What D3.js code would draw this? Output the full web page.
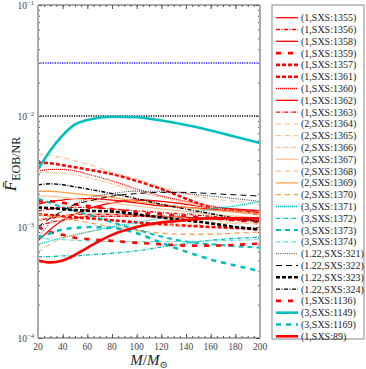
<!DOCTYPE html>
<html>
<head>
<meta charset="utf-8">
<script src="https://cdn.jsdelivr.net/npm/d3@7"></script>
<style>
body { margin: 0; background: #fff; }
text { font-family: "Liberation Serif", "DejaVu Serif", serif; }
</style>
</head>
<body>
<div id="chart"></div>
<script>
// total masses M/Msun where the curves were read
var masses = [20, 30, 40, 50, 60, 80, 100, 120, 140, 160, 180, 200];

// mismatch values, in units of 1e-3
var s1355 = [1.6, 1.7, 1.75, 1.8, 1.8, 1.75, 1.65, 1.55, 1.5, 1.45, 1.4, 1.35];
var s1356 = [1.4, 1.45, 1.5, 1.5, 1.5, 1.45, 1.4, 1.35, 1.3, 1.25, 1.2, 1.2];
var s1358 = [0.75, 0.95, 1.15, 1.3, 1.45, 1.65, 1.75, 1.7, 1.6, 1.5, 1.45, 1.4];
var s1359 = [1.7, 1.7, 1.65, 1.6, 1.55, 1.45, 1.35, 1.3, 1.25, 1.2, 1.15, 1.1];
var s1357 = [3.8, 3.75, 3.6, 3.45, 3.3, 3.0, 2.6, 2.2, 1.8, 1.5, 1.4, 1.3];
var s1361 = [1.3, 1.28, 1.25, 1.22, 1.2, 1.15, 1.1, 1.06, 1.03, 1.0, 0.98, 0.95];
var s1360 = [3.2, 3.3, 3.3, 3.2, 3.0, 2.6, 2.2, 1.9, 1.7, 1.55, 1.45, 1.35];
var s1362 = [1.15, 1.2, 1.25, 1.3, 1.3, 1.3, 1.28, 1.25, 1.22, 1.2, 1.18, 1.15];
var s1363 = [1.0, 1.1, 1.15, 1.2, 1.25, 1.25, 1.25, 1.22, 1.2, 1.18, 1.15, 1.12];
var s1364 = [4.6, 4.4, 4.2, 3.95, 3.7, 3.1, 2.7, 2.3, 2.0, 1.8, 1.7, 1.6];
var s1365 = [0.6, 0.7, 0.8, 0.85, 0.9, 0.97, 1.0, 1.03, 1.05, 1.07, 1.08, 1.1];
var s1366 = [3.1, 3.1, 3.05, 2.95, 2.8, 2.45, 2.1, 1.85, 1.65, 1.5, 1.4, 1.32];
var s1367 = [1.9, 1.9, 1.85, 1.8, 1.75, 1.65, 1.55, 1.45, 1.38, 1.3, 1.25, 1.2];
var s1368 = [1.15, 1.2, 1.25, 1.3, 1.3, 1.3, 1.28, 1.25, 1.2, 1.15, 1.1, 1.05];
var s1369 = [2.1, 2.1, 2.05, 2.0, 1.95, 1.85, 1.7, 1.6, 1.5, 1.42, 1.36, 1.3];
var s1370 = [1.3, 1.25, 1.2, 1.15, 1.1, 1.0, 0.93, 0.88, 0.86, 0.86, 0.88, 0.9];
var s1371 = [0.7, 0.75, 0.8, 0.85, 0.9, 1.0, 1.1, 1.2, 1.3, 1.45, 1.55, 1.7];
var s1372 = [0.54, 0.54, 0.55, 0.55, 0.56, 0.58, 0.61, 0.66, 0.71, 0.76, 0.79, 0.81];
var s1373 = [1.8, 1.65, 1.5, 1.4, 1.3, 1.1, 0.95, 0.82, 0.74, 0.7, 0.67, 0.65];
var s1374 = [0.8, 0.78, 0.77, 0.76, 0.75, 0.74, 0.74, 0.74, 0.74, 0.75, 0.76, 0.77];
var s321 = [0.8, 1.1, 1.4, 1.6, 1.8, 2.0, 2.1, 2.1, 2.0, 1.9, 1.8, 1.7];
var s322 = [1.0, 1.2, 1.4, 1.6, 1.7, 1.9, 2.0, 2.05, 2.05, 2.0, 1.95, 1.9];
var s323 = [1.5, 1.48, 1.45, 1.42, 1.4, 1.38, 1.3, 1.22, 1.15, 1.08, 1.0, 0.95];
var s324 = [2.4, 2.45, 2.4, 2.3, 2.2, 2.0, 1.8, 1.6, 1.45, 1.32, 1.2, 1.12];
var s1136 = [1.0, 0.9, 0.85, 0.8, 0.78, 0.75, 0.72, 0.7, 0.68, 0.68, 0.69, 0.71];
var s1149 = [3.3, 4.9, 6.7, 8.4, 9.2, 9.85, 9.75, 9.1, 8.3, 7.4, 6.5, 5.7];
var s1169 = [0.8, 0.88, 0.95, 0.98, 1.0, 0.98, 0.88, 0.72, 0.6, 0.51, 0.45, 0.4];
var s89 = [0.5, 0.48, 0.5, 0.56, 0.65, 0.85, 1.0, 1.1, 1.15, 1.2, 1.2, 1.2];
var UNIT = 1e-3;

// horizontal reference levels
var refLevels = [0.03, 0.01];

var names = ["(1,SXS:1355)", "(1,SXS:1356)", "(1,SXS:1358)", "(1,SXS:1359)", "(1,SXS:1357)",
  "(1,SXS:1361)", "(1,SXS:1360)", "(1,SXS:1362)", "(1,SXS:1363)", "(2,SXS:1364)",
  "(2,SXS:1365)", "(2,SXS:1366)", "(2,SXS:1367)", "(2,SXS:1368)", "(2,SXS:1369)",
  "(2,SXS:1370)", "(3,SXS:1371)", "(3,SXS:1372)", "(3,SXS:1373)", "(3,SXS:1374)",
  "(1.22,SXS:321)", "(1.22,SXS:322)", "(1.22,SXS:323)", "(1.22,SXS:324)",
  "(1,SXS:1136)", "(3,SXS:1149)", "(3,SXS:1169)", "(1,SXS:89)"];

var xTicks = [20, 40, 60, 80, 100, 120, 140, 160, 180, 200];
var yTicks = [1e-4, 1e-3, 1e-2, 1e-1];
var yExp = ["\u22124", "\u22123", "\u22122", "\u22121"];

var values = [s1355, s1356, s1358, s1359, s1357, s1361, s1360, s1362, s1363, s1364,
  s1365, s1366, s1367, s1368, s1369, s1370, s1371, s1372, s1373, s1374,
  s321, s322, s323, s324, s1136, s1149, s1169, s89];

// line styles, one per series
var red = "#ff0000", pale = "#fcc597", orng = "#f9a24a", cyan = "#00bfbf", lcyan = "#5fd3d3", blk = "#000";
var styles = [
  {c: red, w: 1.3, d: null},
  {c: red, w: 1.3, d: "4,1.5,1,1.5"},
  {c: red, w: 1.3, d: null},
  {c: red, w: 2.6, d: "5,7"},
  {c: red, w: 2.6, d: "4,2"},
  {c: red, w: 2.6, d: "4,2"},
  {c: red, w: 1.3, d: "1,1"},
  {c: red, w: 1.3, d: null},
  {c: red, w: 1.3, d: "4,1.5,1,1.5"},
  {c: pale, w: 1.3, d: "5,4"},
  {c: pale, w: 1.3, d: "5,4"},
  {c: pale, w: 1.3, d: "4,1.5,1,1.5"},
  {c: pale, w: 1.3, d: null},
  {c: pale, w: 1.3, d: "5,4"},
  {c: orng, w: 1.3, d: null},
  {c: orng, w: 1.3, d: "5,4"},
  {c: cyan, w: 1.3, d: "1,1"},
  {c: cyan, w: 1.3, d: "4,1.5,1,1.5"},
  {c: cyan, w: 2, d: "5,4"},
  {c: lcyan, w: 1.1, d: "4,1.5,1,1.5"},
  {c: blk, w: 0.8, d: "1,1.2"},
  {c: blk, w: 1, d: "6,4"},
  {c: blk, w: 2.6, d: "4,2"},
  {c: blk, w: 1.4, d: "4,1.5,1,1.5"},
  {c: red, w: 2.6, d: "5,7"},
  {c: cyan, w: 2.6, d: null},
  {c: cyan, w: 2.6, d: "5,5"},
  {c: red, w: 2.6, d: null}
];

var W = 366, H = 369;
var plot = {left: 38, right: 260, top: 5, bottom: 338};

var svg = d3.select("#chart").append("svg")
  .attr("width", W).attr("height", H);

var x = d3.scaleLinear().domain([20, 200]).range([plot.left, plot.right]);
var y = d3.scaleLog().domain([1e-4, 1e-1]).range([plot.bottom, plot.top]);

// reference levels
svg.append("line").attr("x1", plot.left).attr("x2", plot.right)
  .attr("y1", y(refLevels[0])).attr("y2", y(refLevels[0]))
  .attr("stroke", "#1a1aff").attr("stroke-width", 1.6).attr("stroke-dasharray", "1.2,1.2");
svg.append("line").attr("x1", plot.left).attr("x2", plot.right)
  .attr("y1", y(refLevels[1])).attr("y2", y(refLevels[1]))
  .attr("stroke", "#000").attr("stroke-width", 1.6).attr("stroke-dasharray", "1.2,1.2");

// curves
var line = d3.line()
  .x(function(d, i) { return x(masses[i]); })
  .y(function(d) { return y(d * UNIT); })
  .curve(d3.curveMonotoneX);

var g = svg.append("g");
values.forEach(function(v, k) {
  g.append("path")
    .attr("d", line(v))
    .attr("fill", "none")
    .attr("stroke", styles[k].c)
    .attr("stroke-width", styles[k].w)
    .attr("stroke-dasharray", styles[k].d);
});

// axes, ticks inward on all four sides
var xMinor = d3.range(20, 201, 5);
var yMinor = [];
[1e-4, 1e-3, 1e-2].forEach(function(b) { for (var m = 2; m <= 9; m++) yMinor.push(b * m); });

function addAxis(axis, tr, size, vals) {
  svg.append("g").attr("transform", tr)
    .call(axis.tickValues(vals).tickSize(size).tickFormat(""))
    .call(function(s) { s.select(".domain").remove(); s.selectAll("line").attr("stroke", "#555"); });
}
addAxis(d3.axisBottom(x), "translate(0," + plot.bottom + ")", -4, xTicks);
addAxis(d3.axisBottom(x), "translate(0," + plot.bottom + ")", -2, xMinor);
addAxis(d3.axisTop(x), "translate(0," + plot.top + ")", -4, xTicks);
addAxis(d3.axisTop(x), "translate(0," + plot.top + ")", -2, xMinor);
addAxis(d3.axisLeft(y), "translate(" + plot.left + ",0)", -4, yTicks);
addAxis(d3.axisLeft(y), "translate(" + plot.left + ",0)", -2, yMinor);
addAxis(d3.axisRight(y), "translate(" + plot.right + ",0)", -4, yTicks);
addAxis(d3.axisRight(y), "translate(" + plot.right + ",0)", -2, yMinor);

// frame
svg.append("line").attr("x1", plot.left).attr("x2", plot.right).attr("y1", plot.top).attr("y2", plot.top)
  .attr("stroke", "#555").attr("stroke-width", 1);
svg.append("line").attr("x1", plot.left).attr("x2", plot.right).attr("y1", plot.bottom).attr("y2", plot.bottom)
  .attr("stroke", "#555").attr("stroke-width", 1);
svg.append("line").attr("x1", plot.left).attr("x2", plot.left).attr("y1", plot.top).attr("y2", plot.bottom)
  .attr("stroke", "#aaa").attr("stroke-width", 2);
svg.append("line").attr("x1", plot.right).attr("x2", plot.right).attr("y1", plot.top).attr("y2", plot.bottom)
  .attr("stroke", "#aaa").attr("stroke-width", 2);

// tick labels
svg.selectAll(".xl").data(xTicks).enter().append("text")
  .attr("x", function(d) { return x(d); }).attr("y", plot.bottom + 12)
  .attr("text-anchor", "middle").attr("font-size", 9.5).attr("fill", "#444")
  .text(function(d) { return d; });

var yl = svg.selectAll(".yl").data(yTicks).enter().append("text")
  .attr("x", plot.left - 4).attr("y", function(d) { return y(d) + 3.5; })
  .attr("text-anchor", "end").attr("font-size", 9.5).attr("fill", "#444");
yl.append("tspan").text("10");
yl.append("tspan").attr("dy", -4).attr("font-size", 6.5).text(function(d, i) { return yExp[i]; });

// axis titles
var xt = svg.append("text").attr("x", (plot.left + plot.right) / 2).attr("y", 365)
  .attr("text-anchor", "middle").attr("font-size", 15).attr("fill", "#222");
xt.append("tspan").attr("font-style", "italic").text("M");
xt.append("tspan").text("/");
xt.append("tspan").attr("font-style", "italic").text("M");
xt.append("tspan").attr("dy", 2.5).attr("font-size", 10).text("\u2299");

var yt = svg.append("text").attr("transform", "translate(16,164) rotate(-90)")
  .attr("text-anchor", "middle").attr("font-size", 17).attr("fill", "#222");
yt.append("tspan").attr("font-style", "italic").text("F\u0304");
yt.append("tspan").attr("dy", 3.5).attr("font-size", 12).text("EOB/NR");

// legend
var lg = {x: 272, y: 5, w: 92, h: 334, first: 12.7, step: 11.8};
svg.append("rect").attr("x", lg.x).attr("y", lg.y).attr("width", lg.w).attr("height", lg.h)
  .attr("fill", "#fff").attr("stroke", "#888").attr("stroke-width", 1);
var items = svg.selectAll(".lg").data(names).enter().append("g")
  .attr("transform", function(d, i) { return "translate(0," + (lg.y + lg.first + i * lg.step) + ")"; });
items.append("line").attr("x1", 276).attr("x2", 298).attr("y1", 0).attr("y2", 0)
  .attr("stroke", function(d, i) { return styles[i].c; })
  .attr("stroke-width", function(d, i) { return styles[i].w; })
  .attr("stroke-dasharray", function(d, i) { return styles[i].d; });
items.append("text").attr("x", 301).attr("y", 3.4).attr("font-size", 10).attr("fill", "#222")
  .text(function(d) { return d; });
</script>
</body>
</html>
